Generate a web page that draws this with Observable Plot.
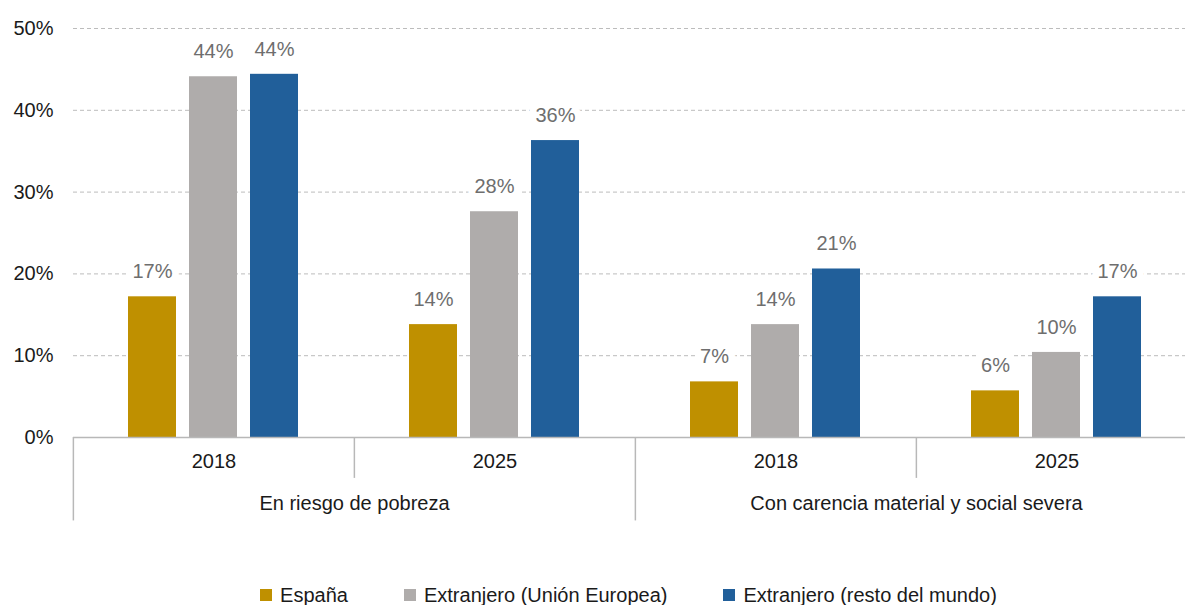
<!DOCTYPE html>
<html>
<head>
<meta charset="utf-8">
<script src="https://cdn.jsdelivr.net/npm/d3@7"></script>
<script src="https://cdn.jsdelivr.net/npm/@observablehq/plot@0.6"></script>
<style>
  html, body { margin: 0; padding: 0; background: #fff; overflow: hidden; }
  #chart svg { display: block; }
  #legend {
    display: flex; justify-content: center; align-items: center;
    margin-left: 66px; width: 1125px; margin-top: 25px;
    font-family: "Liberation Sans", Arial, sans-serif; font-size: 20px; color: #1a1a1a;
    line-height: 20px; white-space: nowrap;
  }
  #legend .item { display: flex; align-items: center; margin: 0 28px; }
  #legend .sw { width: 12px; height: 12px; margin-right: 8px; }
</style>
</head>
<body>
<div id="chart"></div>
<div id="legend"></div>
<script>
// ---- data ----
const series = ["España", "Extranjero (Unión Europea)", "Extranjero (resto del mundo)"];
const colors = ["#BF9000", "#AFACAB", "#215F9A"];
const indicators = ["En riesgo de pobreza", "Con carencia material y social severa"];
const years = ["2018", "2025"];
// order: pobreza-2018, pobreza-2025, carencia-2018, carencia-2025
const espana = [17.2, 13.8, 6.8, 5.7];
const ue = [44.1, 27.6, 13.8, 10.4];
const mundo = [44.4, 36.3, 20.6, 17.2];
const yTicks = [0, 10, 20, 30, 40, 50];

// ---- build table ----
const groups = [];
indicators.forEach(ind => years.forEach(yr => groups.push({group: ind + "|" + yr, indicator: ind, year: yr})));
const valuesBySeries = [espana, ue, mundo];
const data = [];
groups.forEach((g, gi) => series.forEach((s, si) => data.push({group: g.group, series: s, value: valuesBySeries[si][gi]})));
const seps = groups.map(g => ({group: g.group, long: g.year === years[0]}));
const indLabels = indicators.map(ind => ({group: ind + "|" + years[0], text: ind}));

const W = 1185, H = 560, mL = 72, mR = -12, mT = 28, mB = H - 437;
const facetW = (W - mL - mR) / groups.length;
const font = "'Liberation Sans', Arial, sans-serif";
const axisGrey = "#b8b8b8";

const plot = Plot.plot({
  width: W, height: H,
  marginLeft: mL, marginRight: mR, marginTop: mT, marginBottom: mB,
  style: {fontFamily: font, fontSize: "20px", color: "#1a1a1a", background: "#fff", overflow: "hidden"},
  fx: {domain: groups.map(g => g.group), padding: 0, axis: null, label: null},
  x: {domain: series, paddingInner: 0.21, paddingOuter: 0.873, axis: null},
  y: {domain: [0, 50], ticks: yTicks, tickFormat: d => d + "%", tickSize: 0, tickPadding: 20, label: null},
  color: {domain: series, range: colors},
  marks: [
    Plot.ruleY(yTicks.filter(d => d > 0), {stroke: "#bcbcbc", strokeDasharray: "4,3", strokeWidth: 1}),
    Plot.barY(data, {fx: "group", x: "series", y: "value", fill: "series"}),
    Plot.ruleY([0], {stroke: axisGrey, strokeWidth: 1.5}),
    Plot.ruleX(seps, {fx: "group", x: null, y1: 0, y2: d => d.long ? -10.2 : -5, dx: -facetW / 2, stroke: axisGrey, strokeWidth: 1.5}),
    Plot.text(data, {fx: "group", x: "series", y: "value", text: d => Math.round(d.value) + "%",
      dy: -25, fill: "#6e6e6e", stroke: "white", strokeWidth: 14, fontSize: 20}),
    Plot.text(groups, {fx: "group", text: "year", frameAnchor: "bottom", dy: 30, fill: "#1a1a1a", fontSize: 20}),
    Plot.text(indLabels, {fx: "group", text: "text", frameAnchor: "bottom-right", textAnchor: "middle", dy: 72, fill: "#1a1a1a", fontSize: 20})
  ]
});
document.getElementById("chart").appendChild(plot);

// ---- legend ----
const legend = document.getElementById("legend");
series.forEach((s, i) => {
  const item = document.createElement("div");
  item.className = "item";
  const sw = document.createElement("span");
  sw.className = "sw";
  sw.style.background = colors[i];
  const t = document.createElement("span");
  t.textContent = s;
  item.appendChild(sw); item.appendChild(t);
  legend.appendChild(item);
});
</script>
</body>
</html>
